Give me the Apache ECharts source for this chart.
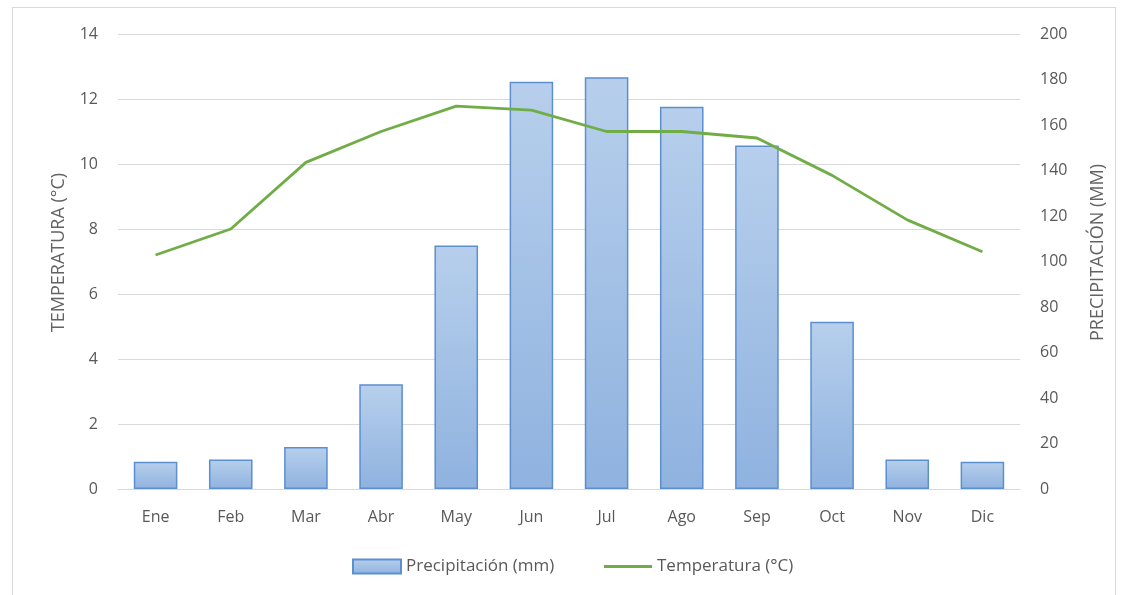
<!DOCTYPE html>
<html><head><meta charset="utf-8">
<script src="https://cdn.jsdelivr.net/npm/echarts@6/dist/echarts.min.js"></script>
<style>
html,body{margin:0;padding:0;background:#fff;}
#frame{position:absolute;left:12px;top:7px;width:1104px;height:590px;border:1px solid #d9d9d9;box-sizing:border-box;}
#c{position:absolute;left:0;top:0;width:1125px;height:595px;}
</style></head>
<body>
<div id="frame"></div>
<div id="c"></div>
<script>
const months = ['Ene','Feb','Mar','Abr','May','Jun','Jul','Ago','Sep','Oct','Nov','Dic'];
const precipitation = [12, 13, 18.5, 46, 107, 179, 181, 168, 151, 73.5, 13, 12];
const temperature = [7.2, 8.0, 10.05, 11.0, 11.78, 11.66, 11.0, 11.0, 10.8, 9.65, 8.28, 7.3];
const tempTicks = [0, 14, 2];
const precTicks = [0, 200, 20];

const FONT = 'Open Sans, Liberation Sans, sans-serif';
const chart = echarts.init(document.getElementById('c'));
const labelStyle = {color:'#595959', fontSize:16, fontFamily:FONT};
const legendText = {color:'#595959', fontSize:17, fontFamily:FONT};
chart.setOption({
  animation:false,
  grid:{left:118, right:105, top:34, bottom:106},
  legend:[
    {left:352, top:558, padding:0, itemWidth:48, itemHeight:14, itemGap:0, textStyle:legendText,
     data:[{name:'Precipitación (mm)', icon:'rect'}]},
    {left:604, top:558, padding:0, itemWidth:48, itemHeight:3, itemGap:0, textStyle:legendText,
     data:[{name:'Temperatura (°C)', icon:'rect', itemStyle:{color:'#70ad47'}}]}
  ],
  xAxis:{type:'category', data:months,
    axisLine:{lineStyle:{color:'#d9d9d9'}}, axisTick:{show:false},
    axisLabel:Object.assign({margin:20}, labelStyle)},
  yAxis:[
    {type:'value', min:tempTicks[0], max:tempTicks[1], interval:tempTicks[2],
     name:'TEMPERATURA (°C)', nameLocation:'middle', nameGap:50, nameRotate:90,
     nameTextStyle:{color:'#636363', fontSize:18, fontFamily:FONT, padding:[0,0,0,18]},
     axisLine:{show:false}, axisTick:{show:false},
     axisLabel:Object.assign({margin:20}, labelStyle),
     splitLine:{lineStyle:{color:'#d9d9d9', width:1}}},
    {type:'value', min:precTicks[0], max:precTicks[1], interval:precTicks[2],
     name:'PRECIPITACIÓN (MM)', nameLocation:'middle', nameGap:69, nameRotate:90,
     nameTextStyle:{color:'#636363', fontSize:18, fontFamily:FONT, padding:[0,0,0,18]},
     axisLine:{show:false}, axisTick:{show:false},
     axisLabel:Object.assign({margin:20}, labelStyle),
     splitLine:{show:false}}
  ],
  series:[
    {name:'Precipitación (mm)', type:'bar', yAxisIndex:1, data:precipitation, barWidth:'58%',
     itemStyle:{color:new echarts.graphic.LinearGradient(0,0,0,1,[{offset:0,color:'#b7cfec'},{offset:1,color:'#8fb2df'}]),
       borderColor:'#5b8fd0', borderWidth:1.5}},
    {name:'Temperatura (°C)', type:'line', yAxisIndex:0, data:temperature, symbol:'none',
     lineStyle:{color:'#70ad47', width:2.8}, itemStyle:{color:'#70ad47'}}
  ]
});
</script>
</body></html>
